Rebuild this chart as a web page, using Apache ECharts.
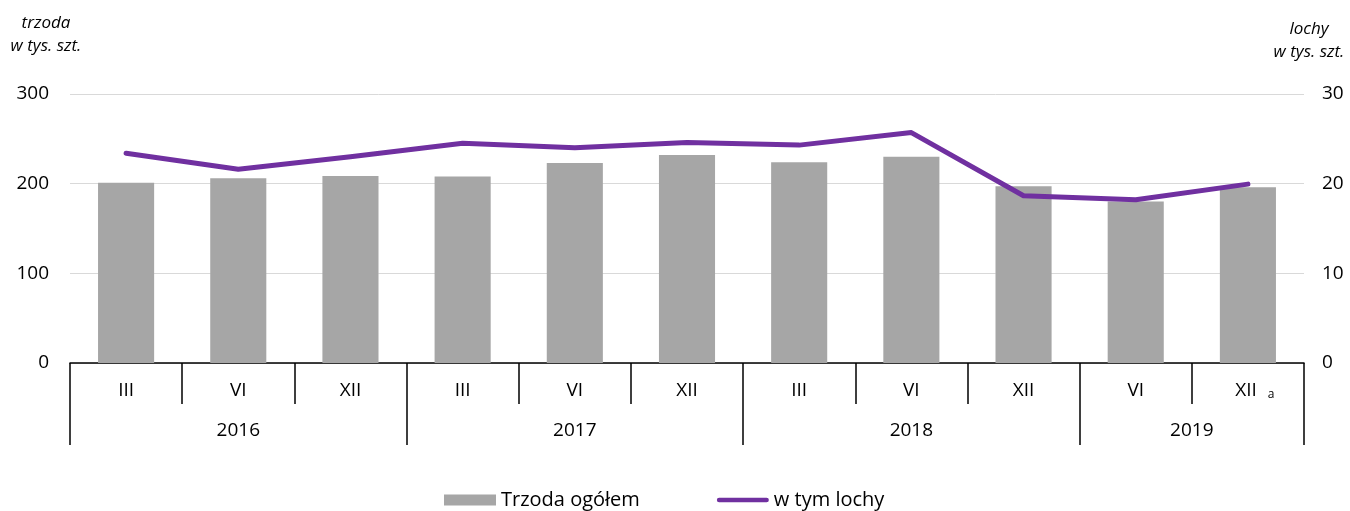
<!DOCTYPE html>
<html>
<head>
<meta charset="utf-8">
<script src="https://cdn.jsdelivr.net/npm/echarts@6/dist/echarts.min.js"></script>
<style>
html,body{margin:0;padding:0;background:#fff;}
#chart{width:1350px;height:511px;}
</style>
</head>
<body>
<div id="chart"></div>
<script>
// ---- data ----
var months = ['III', 'VI', 'XII', 'III', 'VI', 'XII', 'III', 'VI', 'XII', 'VI', 'XII'];
var years = ['2016', '2017', '2018', '2019'];
var yearSizes = [3, 3, 3, 2];
var trzoda = [201, 206, 208.5, 208, 223, 232, 224, 230, 197, 180, 196];
var lochy = [23.4, 21.6, 23.0, 24.5, 24.0, 24.6, 24.3, 25.7, 18.65, 18.2, 19.95];
var leftTicks = [0, 100, 200, 300];
var rightTicks = [0, 10, 20, 30];

// build half-step year axis (boundary + mid points)
var yearAxisData = [];
var yearLabelIdx = {};
var yearTickIdx = {0: true};
(function () {
  var total = 0;
  yearSizes.forEach(function (s) { total += s; });
  for (var i = 0; i <= total * 2; i++) yearAxisData.push('');
  var pos = 0;
  years.forEach(function (y, k) {
    var mid = pos * 2 + yearSizes[k];
    yearAxisData[mid] = y;
    yearLabelIdx[mid] = true;
    pos += yearSizes[k];
    yearTickIdx[pos * 2] = true;
  });
})();

var font = 'Open Sans';
var txt = '#000';
var fs = 19;
var lineIcon = 'path://M0,0L0.01,0L0.01,0.01Z M2.5,3L54.5,3A2.5,2.5 0 0 1 54.5,8L2.5,8A2.5,2.5 0 0 1 2.5,3Z M0,11L0.01,11L0.01,10.99Z';
var chart = echarts.init(document.getElementById('chart'));
chart.setOption({
  animation: false,
  backgroundColor: '#ffffff',
  textStyle: {fontFamily: font},
  grid: {left: 70, right: 46, top: 94, bottom: 148, containLabel: false},
  legend: {
    left: 439, top: 485,
    itemWidth: 52, itemHeight: 11, itemGap: 77,
    textStyle: {fontSize: 20, color: txt, fontFamily: font},
    data: [
      {name: 'Trzoda ogółem', icon: 'rect'},
      {name: 'w tym lochy', icon: lineIcon, itemStyle: {color: '#7030a0'}}
    ]
  },
  graphic: [
    {type: 'text', x: 46, y: 12, style: {text: 'trzoda\nw tys. szt.', font: 'italic 17px "Open Sans"', fill: txt, align: 'center', lineHeight: 23}},
    {type: 'text', x: 1309, y: 18, style: {text: 'lochy\nw tys. szt.', font: 'italic 17px "Open Sans"', fill: txt, align: 'center', lineHeight: 23}}
  ],
  xAxis: [
    {
      type: 'category', data: months, position: 'bottom', boundaryGap: true,
      axisLine: {show: true, lineStyle: {color: '#000', width: 1.5}},
      axisTick: {show: true, length: 41, alignWithLabel: false, interval: 0, lineStyle: {color: '#000', width: 1.5}},
      axisLabel: {
        interval: 0, margin: 18, fontSize: fs, color: txt, fontFamily: font,
        formatter: function (v, i) { return i === months.length - 1 ? '{n|' + v + '}{a|a}' : '{m|' + v + '}'; },
        rich: {
          m: {fontSize: fs, color: txt, fontFamily: font},
          n: {fontSize: fs, color: txt, fontFamily: font, padding: [0, 0, 0, 14]},
          a: {fontSize: 12, color: txt, fontFamily: font, padding: [8, 0, 0, 11]}
        }
      },
      splitLine: {show: false}
    },
    {
      type: 'category', data: yearAxisData, position: 'bottom', boundaryGap: false,
      axisLine: {show: false},
      axisTick: {show: true, length: 82, interval: function (i) { return !!yearTickIdx[i]; }, lineStyle: {color: '#000', width: 1.5}},
      axisLabel: {show: true, margin: 58, fontSize: fs, color: txt, fontFamily: font, interval: function (i) { return !!yearLabelIdx[i]; }},
      splitLine: {show: false}
    }
  ],
  yAxis: [
    {
      type: 'value', min: leftTicks[0], max: leftTicks[leftTicks.length - 1], interval: 100,
      axisLine: {show: false}, axisTick: {show: false},
      axisLabel: {fontSize: fs, color: txt, fontFamily: font, margin: 21},
      splitLine: {show: true, lineStyle: {color: '#d9d9d9', width: 1}}
    },
    {
      type: 'value', min: rightTicks[0], max: rightTicks[rightTicks.length - 1], interval: 10, position: 'right',
      axisLine: {show: false}, axisTick: {show: false},
      axisLabel: {fontSize: fs, color: txt, fontFamily: font, margin: 18},
      splitLine: {show: false}
    }
  ],
  series: [
    {
      name: 'Trzoda ogółem', type: 'bar', data: trzoda, xAxisIndex: 0, yAxisIndex: 0,
      barWidth: '50%', itemStyle: {color: '#a6a6a6'}, z: 2
    },
    {
      name: 'w tym lochy', type: 'line', data: lochy, xAxisIndex: 0, yAxisIndex: 1,
      symbol: 'none', showSymbol: false, lineStyle: {color: '#7030a0', width: 5, cap: 'round', join: 'round'},
      itemStyle: {color: '#7030a0'}, z: 5
    }
  ]
});
</script>
</body>
</html>
